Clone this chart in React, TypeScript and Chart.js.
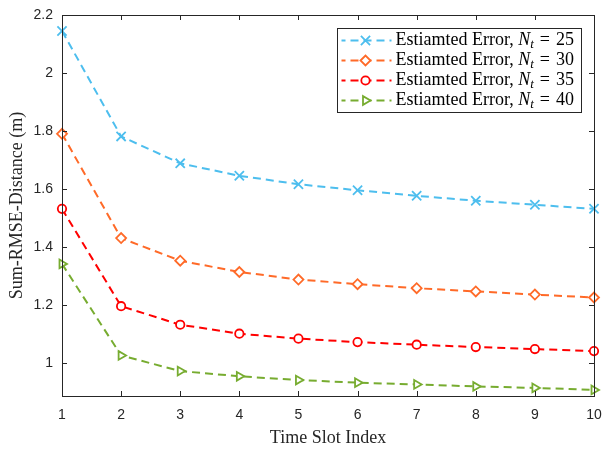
import React, { useEffect, useRef } from "react";
import { Chart, registerables } from "chart.js";
import { drawPoint } from "chart.js/helpers";

Chart.register(...registerables);

const timeSlots = [1, 2, 3, 4, 5, 6, 7, 8, 9, 10];
const errNt25 = [2.145, 1.781, 1.688, 1.645, 1.616, 1.595, 1.576, 1.559, 1.545, 1.531];
const errNt30 = [1.79, 1.43, 1.352, 1.313, 1.287, 1.271, 1.257, 1.246, 1.235, 1.225];
const errNt35 = [1.531, 1.195, 1.131, 1.1, 1.083, 1.071, 1.062, 1.054, 1.047, 1.04];
const errNt40 = [1.341, 1.025, 0.971, 0.953, 0.94, 0.931, 0.925, 0.918, 0.913, 0.906];
const ntValues = ["25", "30", "35", "40"];
const yTickValues = [1, 1.2, 1.4, 1.6, 1.8, 2, 2.2];
const xTickValues = [1, 2, 3, 4, 5, 6, 7, 8, 9, 10];

const colors = ["#4DBEEE", "#FF6A28", "#FF0000", "#77AC30"];
const markers = ["crossRot", "rectRot", "circle", "triangle"];
const markerSizes = [6.5, 5, 4.2, 5];
const rotations = [0, 0, 0, 90];
const seriesValues = [errNt25, errNt30, errNt35, errNt40];

const AXIS = "#262626";
const DASH = [8, 5];

const boxPlugin = {
  id: "matlabBox",
  afterDraw(chart: any) {
    const { ctx, chartArea: a, scales } = chart;
    ctx.save();
    ctx.strokeStyle = AXIS;
    ctx.lineWidth = 1;
    ctx.setLineDash([]);
    ctx.strokeRect(Math.round(a.left) + 0.5, Math.round(a.top) + 0.5, Math.round(a.right - a.left), Math.round(a.bottom - a.top));
    const tl = 5;
    ctx.beginPath();
    scales.x.ticks.forEach((t: any) => {
      const px = Math.round(scales.x.getPixelForValue(t.value)) + 0.5;
      ctx.moveTo(px, a.bottom);
      ctx.lineTo(px, a.bottom - tl);
      ctx.moveTo(px, a.top);
      ctx.lineTo(px, a.top + tl);
    });
    scales.y.ticks.forEach((t: any) => {
      const py = Math.round(scales.y.getPixelForValue(t.value)) + 0.5;
      ctx.moveTo(a.left, py);
      ctx.lineTo(a.left + tl, py);
      ctx.moveTo(a.right, py);
      ctx.lineTo(a.right - tl, py);
    });
    ctx.stroke();

    // legend
    const w = 244;
    const h = 84;
    const x0 = Math.round(a.right - 13 - w) + 0.5;
    const y0 = Math.round(a.top + 13) + 0.5;
    ctx.fillStyle = "#ffffff";
    ctx.fillRect(x0, y0, w, h);
    ctx.strokeStyle = AXIS;
    ctx.strokeRect(x0, y0, w, h);
    chart.data.datasets.forEach((ds: any, i: number) => {
      const y = y0 + 12 + i * 20;
      ctx.save();
      ctx.strokeStyle = ds.borderColor;
      ctx.lineWidth = 2;
      ctx.setLineDash(DASH);
      ctx.lineDashOffset = 4;
      ctx.beginPath();
      ctx.moveTo(x0 + 4, y);
      ctx.lineTo(x0 + 54, y);
      ctx.stroke();
      ctx.setLineDash([]);
      ctx.lineWidth = ds.pointBorderWidth;
      ctx.strokeStyle = ds.borderColor;
      ctx.fillStyle = "#ffffff";
      drawPoint(ctx, { pointStyle: ds.pointStyle, radius: ds.pointRadius, rotation: ds.pointRotation, borderWidth: ds.pointBorderWidth }, x0 + 28, y);
      ctx.restore();
      let tx = x0 + 58;
      ctx.fillStyle = "#000000";
      ctx.textBaseline = "middle";
      ctx.textAlign = "left";
      ctx.font = "18px 'Liberation Serif'";
      const s1 = "Estiamted Error, ";
      ctx.fillText(s1, tx, y);
      tx += ctx.measureText(s1).width;
      ctx.font = "italic 18px 'Liberation Serif'";
      ctx.fillText("N", tx, y);
      tx += ctx.measureText("N").width;
      ctx.font = "italic 13px 'Liberation Serif'";
      ctx.fillText("t", tx, y + 4);
      tx += ctx.measureText("t").width + 6;
      ctx.font = "18px 'Liberation Serif'";
      ctx.fillText("=", tx, y);
      tx += ctx.measureText("=").width + 6;
      ctx.fillText(ntValues[i], tx, y);
    });
    ctx.restore();
  },
};

export default function App() {
  const ref = useRef<HTMLCanvasElement>(null);
  useEffect(() => {
    if (!ref.current) return;
    const chart = new Chart(ref.current, {
      type: "line",
      data: {
        labels: timeSlots,
        datasets: seriesValues.map((vals, i) => ({
          label: "Estiamted Error, Nt = " + ntValues[i],
          data: timeSlots.map((x, j) => ({ x, y: vals[j] })),
          borderColor: colors[i],
          backgroundColor: "rgba(0,0,0,0)",
          borderWidth: 2,
          borderDash: DASH,
          pointStyle: markers[i],
          pointRadius: markerSizes[i],
          pointRotation: rotations[i],
          pointBorderWidth: 1.8,
          pointBackgroundColor: "#ffffff",
          pointBorderColor: colors[i],
          tension: 0,
          clip: false as any,
        })),
      },
      options: {
        animation: false,
        responsive: true,
        maintainAspectRatio: false,
        layout: { padding: { top: 15, right: 11, left: 0, bottom: 0 } },
        plugins: { legend: { display: false }, tooltip: { enabled: false } },
        scales: {
          x: {
            type: "linear",
            min: 1,
            max: 10,
            grid: { display: false, drawTicks: false },
            border: { display: false },
            afterBuildTicks: (s: any) => {
              s.ticks = xTickValues.map((v) => ({ value: v }));
            },
            afterFit: (s: any) => {
              s.height = 53;
              s.paddingRight = 0;
              s.paddingLeft = 0;
            },
            ticks: {
              color: AXIS,
              padding: 11,
              maxRotation: 0,
              font: { family: "'Liberation Sans'", size: 14 },
              callback: (v: any) => String(v),
            },
            title: {
              display: true,
              text: "Time Slot Index",
              color: AXIS,
              padding: { top: 0, bottom: 0 },
              font: { family: "'Liberation Serif'", size: 18 },
            },
          },
          y: {
            type: "linear",
            min: 0.885,
            max: 2.2,
            grid: { display: false, drawTicks: false },
            border: { display: false },
            afterBuildTicks: (s: any) => {
              s.ticks = yTickValues.map((v) => ({ value: v }));
            },
            afterFit: (s: any) => {
              s.width = 62;
              s.paddingTop = 0;
              s.paddingBottom = 0;
            },
            ticks: {
              color: AXIS,
              padding: 9,
              font: { family: "'Liberation Sans'", size: 14 },
              callback: (v: any) => String(Math.round(v * 10) / 10),
            },
            title: {
              display: true,
              text: "Sum-RMSE-Distance (m)",
              color: AXIS,
              padding: { top: 6, bottom: 0 },
              font: { family: "'Liberation Serif'", size: 18 },
            },
          },
        },
      },
      plugins: [boxPlugin],
    });
    return () => chart.destroy();
  }, []);
  return (
    <div style={{ position: "absolute", left: 0, top: 0, width: 605, height: 449, background: "#fff" }}>
      <canvas ref={ref} />
    </div>
  );
}
